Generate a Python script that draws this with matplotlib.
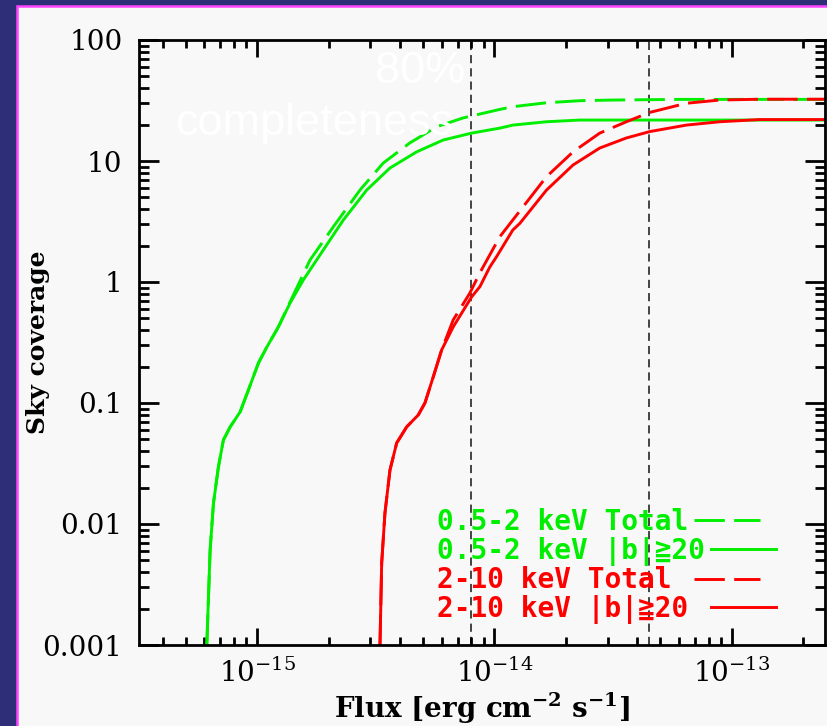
import math
import matplotlib
matplotlib.use("Agg")
import matplotlib.pyplot as plt
from matplotlib.patches import Rectangle
from matplotlib.ticker import LogLocator, NullFormatter

# ---------------------------------------------------------
# Sky coverage curves
# ---------------------------------------------------------
soft_b20_flux = [6.14e-16, 6.34e-16, 6.55e-16, 6.87e-16, 7.21e-16, 7.70e-16, 8.48e-16,
                 9.19e-16, 1.013e-15, 1.099e-15, 1.229e-15, 1.377e-15, 1.566e-15, 1.901e-15,
                 2.308e-15, 2.895e-15, 3.629e-15, 4.70e-15, 6.08e-15, 8.01e-15, 1.054e-14,
                 1.195e-14, 1.657e-14, 2.288e-14, 6.03e-14, 2.6e-13]
soft_b20_cov = [0.001, 0.0061, 0.0149, 0.0296, 0.0494, 0.0634, 0.0843,
                0.128, 0.214, 0.290, 0.425, 0.670, 1.04, 1.84,
                3.25, 5.75, 8.75, 11.9, 14.9, 17.0, 18.7,
                19.8, 21.1, 21.8, 21.8, 21.8]

soft_tot_flux = [6.14e-16, 6.34e-16, 6.55e-16, 6.87e-16, 7.21e-16, 7.70e-16, 8.48e-16,
                 9.19e-16, 1.013e-15, 1.099e-15, 1.229e-15, 1.377e-15, 1.671e-15, 2.095e-15,
                 2.713e-15, 3.40e-15, 4.40e-15, 5.71e-15, 7.38e-15, 1.054e-14, 1.195e-14,
                 1.657e-14, 2.288e-14, 3.15e-14, 6.03e-14, 2.6e-13]
soft_tot_cov = [0.001, 0.0061, 0.0149, 0.0296, 0.0494, 0.0634, 0.0843,
                0.128, 0.214, 0.290, 0.425, 0.684, 1.52, 2.86,
                5.75, 9.62, 14.1, 19.2, 22.7, 26.7, 28.1,
                30.3, 31.5, 31.9, 32.3, 32.3]

hard_b20_flux = [3.294e-15, 3.349e-15, 3.457e-15, 3.629e-15, 3.873e-15, 4.266e-15, 4.775e-15,
                 5.095e-15, 5.521e-15, 5.99e-15, 6.70e-15, 8.01e-15, 8.68e-15, 9.56e-15,
                 1.021e-14, 1.195e-14, 1.279e-14, 1.657e-14, 2.144e-14, 2.777e-14, 3.597e-14,
                 4.51e-14, 6.43e-14, 8.89e-14, 1.309e-13, 2.6e-13]
hard_b20_cov = [0.001, 0.00476, 0.01233, 0.0279, 0.0467, 0.0634, 0.0796,
                0.100, 0.164, 0.274, 0.425, 0.752, 0.914, 1.33,
                1.62, 2.69, 3.05, 5.75, 9.27, 12.8, 15.5,
                17.5, 19.8, 21.1, 22.0, 22.0]

hard_tot_flux = [3.294e-15, 3.349e-15, 3.457e-15, 3.629e-15, 3.873e-15, 4.266e-15, 4.775e-15,
                 5.095e-15, 5.521e-15, 5.99e-15, 6.70e-15, 7.88e-15, 8.68e-15, 1.054e-14,
                 1.321e-14, 1.657e-14, 2.144e-14, 2.777e-14, 3.597e-14, 4.51e-14, 6.43e-14,
                 8.89e-14, 1.309e-13, 2.6e-13]
hard_tot_cov = [0.001, 0.00476, 0.01233, 0.0279, 0.0467, 0.0634, 0.0796,
                0.100, 0.164, 0.274, 0.485, 0.811, 1.19, 2.37,
                4.19, 7.42, 11.9, 17.0, 21.1, 25.2, 30.0,
                31.9, 32.4, 32.4]

# flux limits for 80% completeness
completeness_flux = [8.0e-15, 4.5e-14]

x_major = [1e-15, 1e-14, 1e-13]
y_major = [1e-3, 1e-2, 1e-1, 1, 10, 100]
y_ticklabels = ["0.001", "0.01", "0.1", "1", "10", "100"]

labels = ["0.5-2 keV Total", "0.5-2 keV |b|\u226720", "2-10 keV Total ", "2-10 keV |b|\u226720 "]

GREEN = "#00ee00"
RED = "#ff0000"
PANEL = "#f8f8f8"

plt.rcParams["font.family"] = "DejaVu Serif"
plt.rcParams["mathtext.fontset"] = "dejavuserif"

fig = plt.figure(figsize=(8.27, 7.26), dpi=100, facecolor="#2e2e78")
# light slide panel with magenta edge
fig.patches.append(Rectangle((17 / 827, -0.05), 1.2, 1 - 6 / 726 + 0.05,
                             transform=fig.transFigure, facecolor=PANEL,
                             edgecolor="#ff44ff", lw=1.8, zorder=-10))

ax = fig.add_axes([139 / 827, 81 / 726, 686 / 827, 605 / 726])
ax.set_facecolor(PANEL)
ax.set_xscale("log")
ax.set_yscale("log")
ax.set_xlim(3.18e-16, 2.47e-13)
ax.set_ylim(1e-3, 100)

dash = (10.4, 3.2)
ax.plot(soft_tot_flux, soft_tot_cov, color=GREEN, lw=2.1, dashes=dash, label=labels[0])
ax.plot(soft_b20_flux, soft_b20_cov, color=GREEN, lw=2.1, label=labels[1])
ax.plot(hard_tot_flux, hard_tot_cov, color=RED, lw=2.1, dashes=dash, label=labels[2])
ax.plot(hard_b20_flux, hard_b20_cov, color=RED, lw=2.1, label=labels[3])

for fx in completeness_flux:
    ax.axvline(fx, color="#444444", lw=1.4, dashes=(4.2, 2.6), zorder=1)

# ticks
ax.set_xticks(x_major)
ax.set_xticklabels([r"$10^{%d}$" % round(math.log10(v)) for v in x_major])
ax.xaxis.set_minor_locator(LogLocator(base=10, subs=range(2, 10), numticks=20))
ax.xaxis.set_minor_formatter(NullFormatter())
ax.set_yticks(y_major)
ax.set_yticklabels(y_ticklabels)
ax.yaxis.set_minor_locator(LogLocator(base=10, subs=range(2, 10), numticks=20))
ax.yaxis.set_minor_formatter(NullFormatter())
ax.tick_params(which="both", direction="in", top=True, right=True, width=2, colors="black")
ax.tick_params(axis="x", which="major", length=12, labelsize=20, pad=10)
ax.tick_params(axis="x", which="minor", length=6)
ax.tick_params(axis="y", which="major", length=14.5, labelsize=20, pad=12)
ax.tick_params(axis="y", which="minor", length=7)
for sp in ax.spines.values():
    sp.set_linewidth(2)

ax.set_xlabel(r"Flux [erg cm$^{\mathbf{-2}}$ s$^{\mathbf{-1}}$]", fontsize=20,
              fontweight="bold", labelpad=2)
ax.set_ylabel("Sky coverage", fontsize=18, fontweight="bold")
ax.yaxis.set_label_coords(-0.13, 0.5)

leg = ax.legend(loc="lower right", bbox_to_anchor=(0.929, 0.035), frameon=False,
                markerfirst=False, labelcolor="linecolor", handlelength=2.35,
                handletextpad=0.2, labelspacing=0.02, borderpad=0, borderaxespad=0,
                prop={"family": ["DejaVu Sans Mono", "DejaVu Sans"], "weight": "bold", "size": 20})
for col in leg._legend_handle_box.get_children():
    col.align = "left"

ax.text(0.41, 0.929, "80%", transform=ax.transAxes, ha="center", va="baseline",
        color="white", fontsize=32.5, family="Liberation Sans", zorder=10)
ax.text(0.0525, 0.843, "completeness", transform=ax.transAxes, ha="left", va="baseline",
        color="white", fontsize=32.5, family="Liberation Sans", zorder=10)

fig.savefig("out.png", dpi=100, facecolor=fig.get_facecolor())
